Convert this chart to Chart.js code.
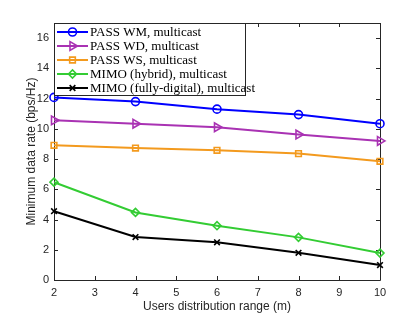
<!DOCTYPE html>
<html>
<head>
<meta charset="utf-8">
<script src="https://cdn.jsdelivr.net/npm/chart.js@4/dist/chart.umd.min.js"></script>
<style>
html,body{margin:0;padding:0;background:#fff;}
#wrap{width:420px;height:315px;position:relative;}
</style>
</head>
<body>
<div id="wrap"><canvas id="c" width="420" height="315"></canvas></div>
<script>
const ranges = [2, 4, 6, 8, 10];
const passWM = [12.08, 11.80, 11.30, 10.94, 10.34];
const passWD = [10.56, 10.34, 10.10, 9.62, 9.20];
const passWS = [8.91, 8.73, 8.58, 8.36, 7.85];
const mimoHybrid = [6.47, 4.47, 3.59, 2.82, 1.78];
const mimoFull = [4.55, 2.84, 2.49, 1.80, 0.99];
const seriesLabels = ['PASS WM, multicast','PASS WD, multicast','PASS WS, multicast','MIMO (hybrid), multicast','MIMO (fully-digital), multicast'];
const xTicks = [2,3,4,5,6,7,8,9,10];
const yTicks = [0,2,4,6,8,10,12,14,16];

const colors = ['#0000ff','#a932b3','#f39a1e','#33cc33','#000000'];
const styles = [
  {pointStyle:'circle', radius:4, rot:0},
  {pointStyle:'triangle', radius:5, rot:90},
  {pointStyle:'rect', radius:4, rot:0},
  {pointStyle:'rectRot', radius:4, rot:0},
  {pointStyle:'crossRot', radius:4, rot:0}
];
const seriesData = [passWM, passWD, passWS, mimoHybrid, mimoFull];

const datasets = seriesData.map((vals, i) => ({
  label: seriesLabels[i],
  data: ranges.map((x, j) => ({x: x, y: vals[j]})),
  borderColor: colors[i],
  backgroundColor: 'rgba(255,255,255,0)',
  pointBorderColor: colors[i],
  pointBackgroundColor: 'rgba(255,255,255,0)',
  borderWidth: 2,
  pointBorderWidth: 1.6,
  pointStyle: styles[i].pointStyle,
  pointRadius: styles[i].radius,
  pointRotation: styles[i].rot,
  tension: 0,
  fill: false,
  clip: false
}));

const frame = {
  id: 'frame',
  beforeDatasetsDraw(chart) {
    const ctx = chart.ctx, a = chart.chartArea;
    const xs = chart.scales.x, ys = chart.scales.y;
    ctx.save();
    ctx.strokeStyle = '#262626';
    ctx.lineWidth = 1;
    ctx.beginPath();
    ctx.rect(Math.round(a.left)+0.5, Math.round(a.top)+0.5, Math.round(a.right-a.left), Math.round(a.bottom-a.top));
    ctx.stroke();
    const tl = 4;
    ctx.beginPath();
    xTicks.forEach(v => {
      const px = Math.round(xs.getPixelForValue(v)) + 0.5;
      ctx.moveTo(px, a.bottom); ctx.lineTo(px, a.bottom - tl);
      ctx.moveTo(px, a.top); ctx.lineTo(px, a.top + tl);
    });
    yTicks.forEach(v => {
      const py = Math.round(ys.getPixelForValue(v)) + 0.5;
      ctx.moveTo(a.left, py); ctx.lineTo(a.left + tl, py);
      ctx.moveTo(a.right, py); ctx.lineTo(a.right - tl, py);
    });
    ctx.stroke();
    ctx.restore();
  },
  afterDatasetsDraw(chart) {
    const ctx = chart.ctx;
    ctx.save();
    const lx = 54.5, ly = 23.5, lw = 191, lh = 72;
    ctx.fillStyle = '#ffffff';
    ctx.fillRect(lx, ly, lw, lh);
    ctx.strokeStyle = '#262626';
    ctx.lineWidth = 1;
    ctx.strokeRect(lx, ly, lw, lh);
    ctx.font = '13px "Liberation Serif", "Times New Roman", serif';
    ctx.textBaseline = 'middle';
    chart.data.datasets.forEach((ds, i) => {
      const y = 32 + i * 14;
      ctx.strokeStyle = ds.borderColor;
      ctx.lineWidth = 2;
      ctx.beginPath();
      ctx.moveTo(57, y); ctx.lineTo(88, y);
      ctx.stroke();
      ctx.lineWidth = ds.pointBorderWidth;
      ctx.fillStyle = 'rgba(255,255,255,0)';
      Chart.helpers.drawPoint(ctx, {
        pointStyle: ds.pointStyle, radius: ds.pointRadius, rotation: ds.pointRotation, borderWidth: ds.pointBorderWidth
      }, 72.5, y);
      ctx.fillStyle = '#000000';
      ctx.fillText(ds.label, 90, y + 1);
    });
    ctx.restore();
  }
};

new Chart(document.getElementById('c'), {
  type: 'line',
  data: { datasets: datasets },
  options: {
    responsive: false,
    animation: false,
    devicePixelRatio: 1,
    layout: { padding: { left: 0, right: 40, top: 23, bottom: 0 } },
    plugins: { legend: { display: false }, tooltip: { enabled: false } },
    scales: {
      x: {
        type: 'linear', min: 2, max: 10,
        afterFit(s) { s.height = 35; },
        afterBuildTicks(s) { s.ticks = xTicks.map(v => ({value: v})); },
        grid: { display: false, drawTicks: false },
        border: { display: false },
        ticks: { padding: 6, color: '#262626', font: { family: '"Liberation Sans", Arial, sans-serif', size: 11 } },
        title: { display: true, text: 'Users distribution range (m)', color: '#262626', padding: {top: 0, bottom: 1},
                 font: { family: '"Liberation Sans", Arial, sans-serif', size: 12 } }
      },
      y: {
        type: 'linear', min: 0, max: 17,
        afterFit(s) { s.width = 54; },
        afterBuildTicks(s) { s.ticks = yTicks.map(v => ({value: v})); },
        grid: { display: false, drawTicks: false },
        border: { display: false },
        ticks: { padding: 5, color: '#262626', font: { family: '"Liberation Sans", Arial, sans-serif', size: 11 } },
        title: { display: true, text: 'Minimum data rate (bps/Hz)', color: '#262626', padding: {top: 24, bottom: 0},
                 font: { family: '"Liberation Sans", Arial, sans-serif', size: 12 } }
      }
    }
  },
  plugins: [frame]
});
</script>
</body>
</html>
